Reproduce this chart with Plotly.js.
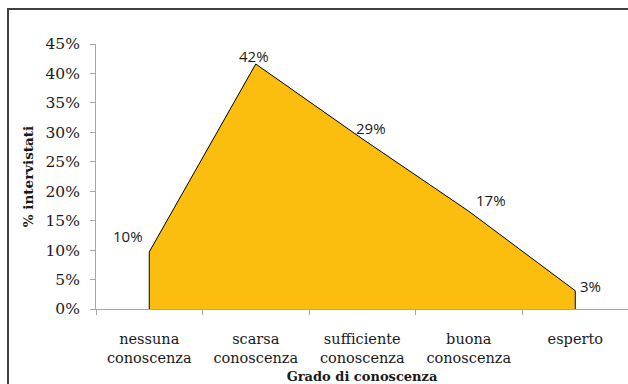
<!DOCTYPE html>
<html>
<head>
<meta charset="utf-8">
<script src="https://cdn.plot.ly/plotly-3.0.1.min.js"></script>
<style>
html,body{margin:0;padding:0;background:#fff;overflow:hidden;}
#wrap{position:relative;width:628px;height:384px;overflow:hidden;}
#chart{width:628px;height:384px;}
#frame{position:absolute;left:7px;top:8px;width:700px;height:500px;border-left:2px solid #404040;border-top:2px solid #404040;pointer-events:none;}
</style>
</head>
<body>
<div id="wrap"><div id="chart"></div><div id="frame"></div></div>
<script>
const categories = ["nessuna<br>conoscenza", "scarsa<br>conoscenza", "sufficiente<br>conoscenza", "buona<br>conoscenza", "esperto"];
const values = [0.097, 0.416, 0.289, 0.166, 0.031];
const yTickVals = [0, 0.05, 0.10, 0.15, 0.20, 0.25, 0.30, 0.35, 0.40, 0.45];
const yTickText = ["0%", "5%", "10%", "15%", "20%", "25%", "30%", "35%", "40%", "45%"];

// closed polygon so the vertical end edges are outlined too
const polyX = [categories[0]].concat(categories, [categories[categories.length - 1]]);
const polyY = [0].concat(values, [0]);

const labelShift = [[-21, 16], [-2, 8], [9, 11], [22, 11], [15, 5]];

const annotations = values.map((v, i) => ({
  x: categories[i], y: v, xref: 'x', yref: 'y',
  text: Math.round(v * 100) + '%', showarrow: false,
  xshift: labelShift[i][0], yshift: labelShift[i][1],
  font: {family: 'Open Sans', size: 15, color: '#1a1a1a'}
}));

const serif = 'DejaVu Serif';

const layout = {
  width: 628, height: 384,
  margin: {l: 96, r: 0, t: 44, b: 75, pad: 0},
  paper_bgcolor: '#ffffff', plot_bgcolor: '#ffffff',
  showlegend: false,
  xaxis: {
    type: 'category', range: [-0.5, 4.495], tickson: 'boundaries',
    showline: true, linecolor: '#a6a6a6', linewidth: 1,
    ticks: 'outside', ticklen: 5, tickcolor: '#a6a6a6',
    showgrid: false, zeroline: false, fixedrange: true,
    ticklabelstandoff: 17,
    tickfont: {family: serif, size: 14.5, color: '#1a1a1a'},
    title: {text: '<b>Grado di conoscenza</b>', font: {family: serif, size: 13, color: '#1a1a1a'}, standoff: 9}
  },
  yaxis: {
    range: [0, 0.45], tickvals: yTickVals, ticktext: yTickText,
    showline: true, linecolor: '#a6a6a6', linewidth: 1,
    ticks: 'outside', ticklen: 5, tickcolor: '#a6a6a6',
    showgrid: false, zeroline: false, fixedrange: true,
    ticklabelstandoff: 7,
    tickfont: {family: serif, size: 15.5, color: '#1a1a1a'},
    title: {text: '<b>% intervistati</b>', font: {family: serif, size: 13.5, color: '#1a1a1a'}, standoff: 8}
  },
  annotations: annotations
};

Plotly.newPlot('chart', [{
  type: 'scatter', mode: 'lines', x: polyX, y: polyY,
  fill: 'toself', fillcolor: '#FBBE0E',
  line: {color: '#000000', width: 1},
  hoverinfo: 'skip'
}], layout, {displayModeBar: false, staticPlot: true});
</script>
</body>
</html>
